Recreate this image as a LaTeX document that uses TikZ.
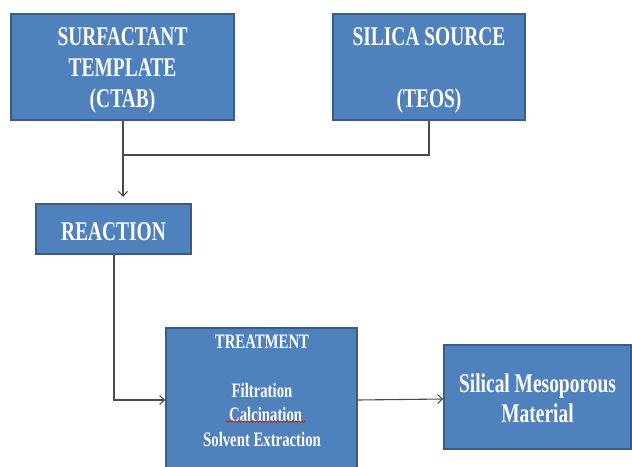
\documentclass[tikz,border=0pt]{standalone}
\usepackage{fontspec}
\newfontfamily\boxfont{Liberation Serif}[FakeStretch=0.72]
\usetikzlibrary{arrows.meta,decorations.pathmorphing}
\definecolor{boxblue}{HTML}{4F81BD}
\definecolor{boxedge}{HTML}{385D8A}
\definecolor{linegray}{HTML}{4A4A4A}
\newcommand\pushdown{\rule{0pt}{24pt}}
\tikzset{
  flowbox/.style={draw=boxedge,line width=1.4pt,fill=boxblue,text=white,align=center,inner sep=0pt},
  bigtext/.style={font=\boxfont\bfseries\fontsize{27}{31}\selectfont},
  smalltext/.style={font=\boxfont\bfseries\fontsize{20.5}{24.5}\selectfont},
  conn/.style={draw=linegray,line width=1.1pt},
  arr/.style={conn,-{Straight Barb[length=5pt,width=9pt,line width=1pt]}}
}
\begin{document}
\begin{tikzpicture}[x=1pt,y=-1pt]
\useasboundingbox (0,0) rectangle (632,466);
\clip (0,0) rectangle (632,466);
% boxes
\node[flowbox,bigtext,minimum width=223pt,minimum height=106pt] (surf) at (122.5,67)
  {\pushdown SURFACTANT\\TEMPLATE\\(CTAB)};
\node[flowbox,bigtext,minimum width=192pt,minimum height=106pt] (sil) at (429,67)
  {\pushdown SILICA SOURCE\\\mbox{}\\(TEOS)};
\node[flowbox,bigtext,minimum width=155pt,minimum height=50pt] (react) at (113.5,229)
  {\pushdown REACTION};
\node[flowbox,minimum width=191pt,minimum height=160pt] (treat) at (261.5,408) {};
\node[smalltext,text=white,align=center,anchor=north] (treattext) at (262,331)
  {TREATMENT\\\mbox{}\\Filtration\\\ \ Calcination\\Solvent Extraction};
\node[flowbox,bigtext,minimum width=187pt,minimum height=104pt,
  font=\boxfont\bfseries\fontsize{27}{30}\selectfont] (mat) at (537.5,397)
  {\rule{0pt}{22pt}Silical Mesoporous\\Material};
% spell-check squiggle
\draw[red!85!black,line width=0.5pt,decorate,decoration={snake,amplitude=0.9pt,segment length=3pt}]
  (226,421.5) -- (306,421.5);
% connectors
\coordinate (j) at (123,155);
\draw[conn] (sil.south -| 429,0) |- (j);
\draw[arr] (surf.south -| j) -- (123,197);
\draw[arr] (react.south -| 114,0) |- (treat.west |- 0,400);
\draw[arr] (treat.east |- 0,400) -- (mat.west |- 0,399);
\end{tikzpicture}
\end{document}
